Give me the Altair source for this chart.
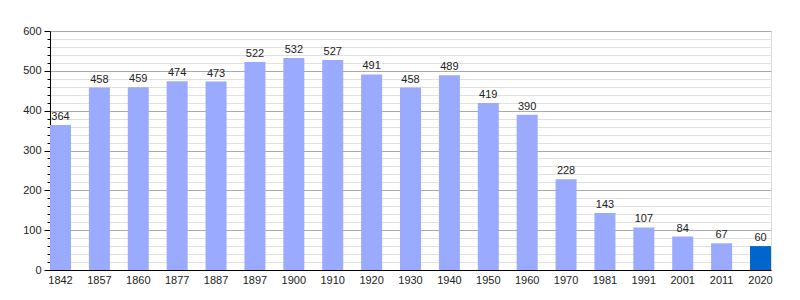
import altair as alt
import pandas as pd

years = ["1842", "1857", "1860", "1877", "1887", "1897", "1900", "1910", "1920", "1930",
         "1940", "1950", "1960", "1970", "1981", "1991", "2001", "2011", "2020"]
population = [364, 458, 459, 474, 473, 522, 532, 527, 491, 458,
              489, 419, 390, 228, 143, 107, 84, 67, 60]
highlight = [False] * 18 + [True]

df = pd.DataFrame({"year": years, "pop": population, "hl": highlight})

FONT = "Liberation Sans"

x = alt.X("year:N", sort=years, title=None,
          scale=alt.Scale(paddingInner=0.46, paddingOuter=0),
          axis=alt.Axis(labelAngle=0, ticks=False, domainColor="#000", labelFont=FONT,
                        labelFontSize=11, labelColor="#222", labelPadding=4, grid=False))
y = alt.Y("pop:Q", title=None,
          scale=alt.Scale(domain=[0, 600], nice=False),
          axis=alt.Axis(values=list(range(0, 601, 20)),
                        labelExpr="datum.value % 100 === 0 ? datum.label : ''",
                        grid=True,
                        gridColor={"condition": {"test": "datum.value % 100 === 0", "value": "#aaaaaa"}, "value": "#e0e0e0"},
                        tickSize={"condition": {"test": "datum.value % 100 === 0", "value": 6}, "value": 3},
                        tickColor="#000", domainColor="#000",
                        labelFont=FONT, labelFontSize=11, labelColor="#222", labelPadding=3))

base = alt.Chart(df).encode(x=x, y=y)
bars = base.mark_bar().encode(
    color=alt.Color("hl:N", scale=alt.Scale(domain=[False, True], range=["#99aaff", "#0066cc"]), legend=None),
)
text = base.mark_text(dy=-8, font=FONT, fontSize=11, color="#222").encode(text="pop:Q")

chart = (bars + text).properties(
    width=721, height=239,
    autosize=alt.AutoSizeParams(type="none"),
    padding={"left": 50, "top": 31, "right": 29, "bottom": 30},
).configure_view(strokeWidth=0).configure(background="white")

chart.save("out.html", embed_options={"renderer": "svg", "actions": False})
